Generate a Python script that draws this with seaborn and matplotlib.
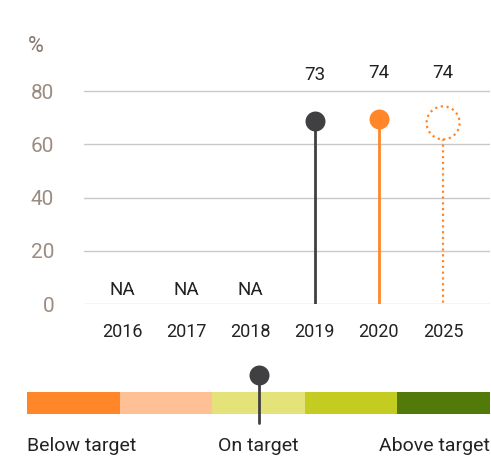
import numpy as np
import pandas as pd
import matplotlib
matplotlib.use("Agg")
import matplotlib.pyplot as plt
import matplotlib.transforms as mtransforms
import seaborn as sns

# ---- data ----
years = ["2016", "2017", "2018", "2019", "2020", "2025"]
values = [np.nan, np.nan, np.nan, 73, 74, 74]
kinds = ["na", "na", "na", "actual", "current", "target"]
y_ticks = [0, 20, 40, 60, 80]
scale_colors = ["#ff8629", "#ffc096", "#e3e37a", "#c4cc22", "#527a0a"]
scale_labels = ["Below target", "On target", "Above target"]
status_position = 2.5  # "On target"

DARK = "#404042"
ORANGE = "#ff8629"
TAUPE = "#9b8c82"
TEXT = "#222222"

sns.set_theme(style="white")
plt.rcParams["font.family"] = ["Roboto", "DejaVu Sans"]

W, H = 491, 458
fig = plt.figure(figsize=(W / 100, H / 100), dpi=100)

# main axes: x 84..490 px, y 38..304 px
ax = fig.add_axes([84 / W, 1 - 304 / H, 406 / W, 266 / H])
df = pd.DataFrame({"year": years, "value": values, "kind": kinds,
                   "pos": np.arange(len(years))})

ax.set_xlim(-0.59, 5.73)
ax.set_ylim(0, 100)
for s in ax.spines.values():
    s.set_visible(False)
for t in y_ticks:
    ax.axhline(t, color="#c8c8c8", lw=1, zorder=0)

px = 72 / 100  # points per pixel
dot_off = mtransforms.offset_copy(ax.transData, fig=fig, x=0, y=-11.5 * px, units="points")
tgt_off = mtransforms.offset_copy(ax.transData, fig=fig, x=0, y=-15.7 * px, units="points")

act = df[df.kind == "actual"]
cur = df[df.kind == "current"]
tgt = df[df.kind == "target"]

# stems
ax.vlines(act.pos, 0, act.value, color=DARK, lw=2, transform=dot_off, zorder=2)
ax.vlines(cur.pos, 0, cur.value, color=ORANGE, lw=2, transform=dot_off, zorder=2)
ax.vlines(tgt.pos, 0, tgt.value, color=ORANGE, lw=1.6,
          linestyle=(0, (1, 1.6)), transform=tgt_off, zorder=2)

# heads
sns.scatterplot(data=act, x="pos", y="value", ax=ax, color=DARK, s=207,
                linewidth=0, transform=dot_off, zorder=3, legend=False)
sns.scatterplot(data=cur, x="pos", y="value", ax=ax, color=ORANGE, s=207,
                linewidth=0, transform=dot_off, zorder=3, legend=False)
ax.scatter(tgt.pos, tgt.value, s=(33 * px) ** 2, facecolor="white",
           edgecolor=ORANGE, linewidth=1.6, linestyle=(0, (1, 1.6)),
           transform=tgt_off, zorder=3)

# value labels
for p, v in zip(df.pos, df.value):
    if np.isnan(v):
        ax.annotate("NA", (p, 0), xytext=(0, 14 * px), textcoords="offset points",
                    ha="center", va="center", fontsize=13.5, color=TEXT)
    else:
        ax.annotate(f"{v:.0f}", (p, v), xytext=(0, 34.6 * px), textcoords="offset points",
                    ha="center", va="center", fontsize=13.5, color=TEXT)

ax.set_xticks(df.pos)
ax.set_xticklabels(years, fontsize=13, color=TEXT)
ax.set_yticks(y_ticks)
ax.set_yticklabels([str(t) for t in y_ticks], fontsize=15, color=TAUPE)
ax.tick_params(axis="y", length=0, pad=21.5)
ax.tick_params(axis="x", length=0, pad=14)
ax.set_xlabel("")
ax.set_ylabel("")
fig.text(28 / W, 1 - 47 / H, "%", ha="left", va="center", fontsize=15.5, color="#85766c")

# legend scale
lx = fig.add_axes([27 / W, 0, 463 / W, 98 / H])
lx.set_xlim(0, 5)
lx.set_ylim(98, 0)
lx.axis("off")
for i, c in enumerate(scale_colors):
    lx.barh(43, 1, left=i, height=22, color=c, linewidth=0)
lx.plot([status_position, status_position], [15, 63], color=DARK, lw=2, zorder=3)
lx.scatter([status_position], [15], s=207, color=DARK, linewidth=0, zorder=4)
lx.text(0, 86, scale_labels[0], ha="left", va="center", fontsize=14, color=TEXT)
lx.text(status_position, 86, scale_labels[1], ha="center", va="center", fontsize=14, color=TEXT)
lx.text(5, 86, scale_labels[2], ha="right", va="center", fontsize=14, color=TEXT)

fig.savefig("out.png", dpi=100)
